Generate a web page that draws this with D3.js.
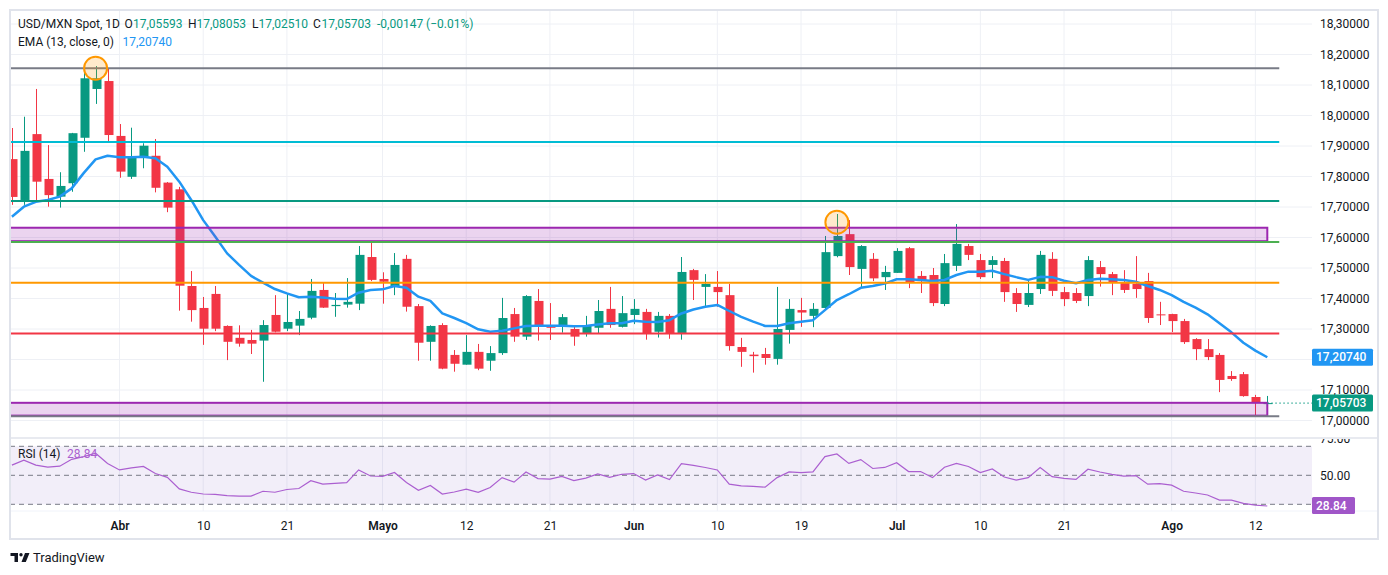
<!DOCTYPE html>
<html>
<head>
<meta charset="utf-8">
<script src="https://cdn.jsdelivr.net/npm/d3@7/dist/d3.min.js"></script>
<style>
body{margin:0;background:#fff;}
svg{display:block;font-family:Roboto,"Noto Sans",sans-serif;}
</style>
</head>
<body>
<svg id="chart" width="1388" height="575"></svg>
<script>
// daily candles
var opens = [17.857,17.723,17.939,17.792,17.734,17.778,17.927,18.087,18.113,17.933,
  17.799,17.865,17.868,17.780,17.758,17.441,17.369,17.415,17.310,17.271,
  17.264,17.262,17.346,17.301,17.311,17.337,17.428,17.375,17.380,17.383,
  17.536,17.464,17.438,17.530,17.375,17.258,17.313,17.215,17.183,17.225,
  17.196,17.221,17.349,17.275,17.392,17.313,17.313,17.300,17.287,17.304,
  17.366,17.307,17.346,17.356,17.291,17.343,17.287,17.493,17.438,17.438,
  17.411,17.241,17.216,17.218,17.202,17.297,17.362,17.343,17.369,17.539,
  17.611,17.497,17.530,17.470,17.484,17.565,17.474,17.477,17.382,17.507,
  17.572,17.526,17.510,17.523,17.418,17.379,17.431,17.530,17.421,17.418,
  17.408,17.503,17.480,17.454,17.448,17.457,17.348,17.349,17.326,17.267,
  17.234,17.215,17.146,17.152,17.077,17.05593];
var highs = [17.959,17.996,18.087,17.903,17.814,17.943,18.146,18.162,18.155,17.972,
  17.960,17.909,17.923,17.782,17.766,17.490,17.405,17.441,17.312,17.312,
  17.297,17.329,17.411,17.415,17.359,17.464,17.454,17.418,17.467,17.572,
  17.583,17.486,17.549,17.543,17.382,17.312,17.319,17.231,17.280,17.251,
  17.244,17.402,17.369,17.411,17.431,17.385,17.349,17.307,17.343,17.395,
  17.438,17.408,17.398,17.366,17.356,17.349,17.536,17.497,17.480,17.490,
  17.448,17.271,17.225,17.238,17.438,17.398,17.402,17.385,17.605,17.677,
  17.657,17.575,17.549,17.507,17.565,17.569,17.490,17.500,17.546,17.644,
  17.579,17.546,17.539,17.533,17.434,17.461,17.556,17.552,17.438,17.434,
  17.539,17.523,17.487,17.493,17.539,17.484,17.389,17.350,17.333,17.270,
  17.267,17.221,17.162,17.159,17.084,17.08053];
var lows = [17.707,17.707,17.723,17.701,17.698,17.750,17.881,18.038,17.914,17.796,
  17.792,17.827,17.748,17.683,17.360,17.324,17.248,17.293,17.198,17.242,
  17.218,17.127,17.289,17.293,17.280,17.332,17.369,17.340,17.370,17.362,
  17.457,17.383,17.411,17.357,17.196,17.196,17.168,17.160,17.183,17.165,
  17.163,17.215,17.258,17.264,17.262,17.264,17.288,17.245,17.275,17.285,
  17.304,17.305,17.316,17.265,17.272,17.268,17.265,17.395,17.372,17.373,
  17.229,17.176,17.157,17.183,17.183,17.252,17.307,17.306,17.365,17.535,
  17.477,17.437,17.457,17.428,17.484,17.434,17.418,17.375,17.375,17.490,
  17.526,17.464,17.467,17.389,17.356,17.372,17.415,17.408,17.375,17.385,
  17.375,17.439,17.411,17.418,17.402,17.320,17.313,17.290,17.251,17.198,
  17.198,17.093,17.130,17.078,17.015,17.02510];
var closes = [17.733,17.884,17.783,17.739,17.769,17.942,18.122,18.122,17.936,17.816,
  17.867,17.901,17.763,17.698,17.442,17.362,17.301,17.301,17.258,17.252,
  17.252,17.313,17.291,17.323,17.333,17.425,17.370,17.379,17.389,17.543,
  17.461,17.455,17.510,17.373,17.255,17.310,17.170,17.186,17.225,17.170,
  17.221,17.336,17.275,17.408,17.311,17.304,17.339,17.275,17.310,17.359,
  17.313,17.352,17.366,17.285,17.343,17.284,17.487,17.461,17.448,17.421,
  17.244,17.225,17.211,17.205,17.300,17.366,17.354,17.366,17.552,17.605,
  17.503,17.572,17.466,17.487,17.556,17.454,17.457,17.385,17.516,17.579,
  17.543,17.470,17.526,17.421,17.382,17.418,17.543,17.425,17.398,17.392,
  17.526,17.480,17.451,17.428,17.431,17.336,17.346,17.326,17.257,17.234,
  17.208,17.133,17.136,17.080,17.0585,17.05703];
var emaValues = [17.668,17.701,17.717,17.723,17.734,17.761,17.811,17.856,17.868,17.863,
  17.863,17.865,17.860,17.832,17.783,17.723,17.657,17.603,17.548,17.510,
  17.474,17.452,17.431,17.417,17.404,17.406,17.403,17.399,17.398,17.419,
  17.428,17.430,17.441,17.435,17.406,17.392,17.351,17.336,17.319,17.299,
  17.291,17.294,17.302,17.310,17.311,17.311,17.311,17.309,17.310,17.315,
  17.319,17.319,17.327,17.324,17.323,17.329,17.351,17.364,17.373,17.379,
  17.359,17.340,17.324,17.310,17.310,17.319,17.324,17.329,17.362,17.395,
  17.414,17.435,17.441,17.449,17.463,17.463,17.461,17.457,17.461,17.477,
  17.488,17.488,17.491,17.480,17.470,17.461,17.471,17.470,17.458,17.450,
  17.461,17.465,17.463,17.461,17.455,17.441,17.428,17.411,17.389,17.370,
  17.348,17.319,17.289,17.255,17.229,17.2074];
var rsiValues = [57.0,60.5,57.0,55.6,56.3,61.0,62.9,65.2,58.2,53.7,
  55.1,56.1,51.2,48.6,40.6,38.3,37.1,36.9,36.0,35.7,
  35.7,39.0,38.3,40.2,40.9,46.3,43.9,44.4,44.9,53.7,
  49.5,49.3,51.9,45.1,39.7,43.0,37.1,38.5,40.4,38.3,
  41.6,48.4,45.3,52.3,47.7,47.4,49.3,46.3,48.1,50.9,
  48.6,50.7,51.2,46.7,50.2,47.0,58.0,56.8,55.4,53.7,
  43.9,42.7,42.3,41.8,48.4,52.3,51.9,52.3,62.9,64.7,
  58.2,60.8,54.7,55.4,58.7,52.6,52.6,48.4,55.6,58.2,
  56.1,51.9,54.4,48.8,46.7,48.4,55.4,49.1,47.9,47.2,
  54.2,52.3,50.7,49.5,49.8,43.9,44.2,43.2,39.0,37.8,
  36.4,32.9,32.9,30.6,29.4,28.84];

// time axis: bar index of each label
var tickIndex = [9,16,23,31,38,45,52,59,66,74,81,88,97,104];
var tickLabels = ['Abr','10','21','Mayo','12','21','Jun','10','19','Jul','10','21','Ago','12'];
var monthLabels = ['Abr','Mayo','Jun','Jul','Ago'];
var gridPrices = [18.3,18.2,18.1,18.0,17.9,17.8,17.7,17.6,17.5,17.4,17.3,17.2,17.1,17.0];
var priceLabels = [18.3,18.2,18.1,18.0,17.9,17.8,17.7,17.6,17.5,17.4,17.3,17.1,17.0];
var rsiBands = [70,50,30];
var rsiTicks = [75,50];

// drawn levels, zones and circled highs
var levelPrices = [18.155,17.913,17.72,17.585,17.452,17.285,17.014];
var levelColors = ['#787b86','#00bcd4','#089981','#4caf50','#ff9800','#f23645','#787b86'];
var zoneTops = [17.632,17.058];
var zoneBottoms = [17.588,17.016];
var markerIndex = [7,69];
var markerPrices = [18.155,17.650];

var UP = '#089981', DOWN = '#f23645', TXT = '#131722', GRID = '#eef0f5';
var paneL = 10, paneR = 1312, paneT = 10, mainBottom = 438, rsiBottom = 511, axisBottom = 539, frameRight = 1378;
var last = closes.length - 1;

var svg = d3.select('#chart');
var x = d3.scaleLinear().domain([0, last]).range([11.9, 1267.3]);
var y = d3.scaleLinear().domain([17.0, 18.3]).range([420.5, 24]);
var yRsi = d3.scaleLinear().domain([30, 70]).range([504.3, 446.3]);

var fmtPrice = function(v){ return v.toFixed(5).replace('.', ','); };

var defs = svg.append('defs');
defs.append('clipPath').attr('id','clipMain').append('rect')
  .attr('x',paneL).attr('y',paneT).attr('width',paneR-paneL).attr('height',mainBottom-paneT);
defs.append('clipPath').attr('id','clipRsi').append('rect')
  .attr('x',paneL).attr('y',mainBottom).attr('width',paneR-paneL).attr('height',rsiBottom-mainBottom);
defs.append('clipPath').attr('id','clipRsiAxis').append('rect')
  .attr('x',paneR).attr('y',mainBottom+1).attr('width',frameRight-paneR).attr('height',rsiBottom-mainBottom-1);

// grid
var grid = svg.append('g');
grid.selectAll('.hgrid').data(gridPrices).enter().append('line')
  .attr('x1',paneL).attr('x2',paneR)
  .attr('y1',function(d){return y(d);}).attr('y2',function(d){return y(d);})
  .style('stroke',GRID);
grid.selectAll('.vgrid').data(tickIndex).enter().append('line')
  .attr('x1',function(d){return x(d);}).attr('x2',function(d){return x(d);})
  .attr('y1',paneT).attr('y2',rsiBottom)
  .style('stroke',GRID);

// candles
var main = svg.append('g').attr('clip-path','url(#clipMain)');
var candle = main.selectAll('.candle').data(d3.range(closes.length)).enter().append('g');
candle.append('line')
  .attr('x1',function(i){return Math.round(x(i))+0.5;}).attr('x2',function(i){return Math.round(x(i))+0.5;})
  .attr('y1',function(i){return y(highs[i]);}).attr('y2',function(i){return y(lows[i]);})
  .style('stroke',function(i){return closes[i]>=opens[i]?UP:DOWN;});
candle.append('rect')
  .attr('x',function(i){return Math.round(x(i))-3.5;})
  .attr('width',9)
  .attr('y',function(i){return y(Math.max(opens[i],closes[i]));})
  .attr('height',function(i){return Math.max(1, Math.abs(y(opens[i])-y(closes[i])));})
  .style('fill',function(i){return closes[i]>=opens[i]?UP:DOWN;});

// EMA 13
main.append('path')
  .datum(emaValues)
  .attr('d', d3.line().x(function(d,i){return x(i);}).y(function(d){return y(d);}))
  .style('fill','none').style('stroke','#2196f3').style('stroke-width',2.5)
  .style('stroke-linejoin','round');

// zones
main.selectAll('.zone').data(zoneTops).enter().append('rect')
  .attr('x',paneL-2).attr('width',x(last)-paneL+2)
  .attr('y',function(d){return y(d);})
  .attr('height',function(d,i){return y(zoneBottoms[i])-y(d);})
  .style('fill','rgba(156,39,176,0.2)').style('stroke','#9c27b0').style('stroke-width',2);

// horizontal levels
main.selectAll('.level').data(levelPrices).enter().append('line')
  .attr('x1',paneL).attr('x2',x(last+1))
  .attr('y1',function(d){return y(d);}).attr('y2',function(d){return y(d);})
  .style('stroke',function(d,i){return levelColors[i];}).style('stroke-width',2);

// circled highs
main.selectAll('.marker').data(markerIndex).enter().append('circle')
  .attr('cx',function(d){return x(d);})
  .attr('cy',function(d,i){return y(markerPrices[i]);})
  .attr('r',11.5)
  .style('fill','rgba(255,152,0,0.2)').style('stroke','#ff9800').style('stroke-width',2);

// last close dotted line
svg.append('line')
  .attr('x1',x(last)).attr('x2',paneR)
  .attr('y1',y(closes[last])).attr('y2',y(closes[last]))
  .style('stroke',UP).style('stroke-dasharray','1.5,2.5');

// RSI pane
var rsiG = svg.append('g').attr('clip-path','url(#clipRsi)');
rsiG.append('rect')
  .attr('x',paneL).attr('width',paneR-paneL)
  .attr('y',yRsi(70)).attr('height',yRsi(30)-yRsi(70))
  .style('fill','rgba(126,87,194,0.1)');
rsiG.selectAll('.band').data(rsiBands).enter().append('line')
  .attr('x1',paneL).attr('x2',paneR)
  .attr('y1',function(d){return yRsi(d);}).attr('y2',function(d){return yRsi(d);})
  .style('stroke','#787b86').style('stroke-dasharray','5,4');
rsiG.append('path')
  .datum(rsiValues)
  .attr('d', d3.line().x(function(d,i){return x(i);}).y(function(d){return yRsi(d);}))
  .style('fill','none').style('stroke','#ab5fd0').style('stroke-width',1.2);

// separators and frame
svg.append('line').attr('x1',paneL).attr('x2',frameRight).attr('y1',mainBottom).attr('y2',mainBottom)
  .style('stroke','#e0e3eb').style('stroke-width',1.5);
svg.append('line').attr('x1',paneL).attr('x2',frameRight).attr('y1',rsiBottom).attr('y2',rsiBottom)
  .style('stroke','#f0f3fa');
svg.append('rect').attr('x',paneL).attr('y',paneT).attr('width',frameRight-paneL).attr('height',axisBottom-paneT)
  .style('fill','none').style('stroke','#e0e3eb').style('stroke-width',2);

// price axis
var yAxis = svg.append('g').attr('transform','translate('+paneR+',0)')
  .call(d3.axisRight(y).tickValues(priceLabels).tickFormat(fmtPrice).tickSize(0).tickPadding(8));
yAxis.select('.domain').remove();
yAxis.selectAll('text').style('font-size','12px').style('fill',TXT).style('font-family','Roboto');

var rAxis = svg.append('g').attr('clip-path','url(#clipRsiAxis)').append('g')
  .attr('transform','translate('+paneR+',0)')
  .call(d3.axisRight(yRsi).tickValues(rsiTicks).tickFormat(d3.format('.2f')).tickSize(0).tickPadding(8));
rAxis.select('.domain').remove();
rAxis.selectAll('text').style('font-size','12px').style('fill',TXT).style('font-family','Roboto');

// time axis
var xAxis = svg.append('g').attr('transform','translate(0,'+rsiBottom+')')
  .call(d3.axisBottom(x).tickValues(tickIndex)
    .tickFormat(function(d){return tickLabels[tickIndex.indexOf(d)];})
    .tickSize(0).tickPadding(10));
xAxis.select('.domain').remove();
xAxis.selectAll('text').style('font-size','12px').style('fill',TXT).style('font-family','Roboto')
  .style('font-weight',function(d){return monthLabels.indexOf(tickLabels[tickIndex.indexOf(d)])>=0?'600':'400';});

// value tags on the right scale
var tags = [
  {yy:y(emaValues[last]), text:fmtPrice(emaValues[last]), color:'#2196f3', w:61},
  {yy:y(closes[last]), text:fmtPrice(closes[last]), color:UP, w:61},
  {yy:yRsi(rsiValues[last])-0.5, text:rsiValues[last].toFixed(2), color:'#a056c8', w:43}
];
var tag = svg.selectAll('.tag').data(tags).enter().append('g');
tag.append('rect')
  .attr('x',paneR).attr('y',function(d){return d.yy-8.5;})
  .attr('width',function(d){return d.w;}).attr('height',17).attr('rx',1.5)
  .style('fill',function(d){return d.color;});
tag.append('text')
  .attr('x',paneR+4).attr('y',function(d){return d.yy;}).attr('dy','0.35em')
  .text(function(d){return d.text;})
  .style('fill','#fff').style('font-size','12px').style('font-weight','500');

// legend lines
var change = closes[last]-closes[last-1];
var pct = change/closes[last-1]*100;
var header = [
  {x:18, t:'USD/MXN Spot, 1D', c:TXT},
  {x:124.5, t:'O', c:TXT}, {x:133, t:fmtPrice(opens[last]), c:UP},
  {x:188, t:'H', c:TXT}, {x:196.5, t:fmtPrice(highs[last]), c:UP},
  {x:252, t:'L', c:TXT}, {x:258.5, t:fmtPrice(lows[last]), c:UP},
  {x:313, t:'C', c:TXT}, {x:321.5, t:fmtPrice(closes[last]), c:UP},
  {x:377, t:(change<0?'-':'+')+fmtPrice(Math.abs(change))+' ('+(pct<0?'\u2212':'+')+Math.abs(pct).toFixed(2)+'%)', c:UP}
];
svg.selectAll('.hdr').data(header).enter().append('text')
  .attr('x',function(d){return d.x;}).attr('y',24).attr('dy','0.35em')
  .text(function(d){return d.t;})
  .style('fill',function(d){return d.c;}).style('font-size','12px');
svg.append('text').attr('x',18).attr('y',42).attr('dy','0.35em')
  .text('EMA (13, close, 0)').style('fill',TXT).style('font-size','12px');
svg.append('text').attr('x',122.5).attr('y',42).attr('dy','0.35em')
  .text(fmtPrice(emaValues[last])).style('fill','#2196f3').style('font-size','12px');
svg.append('text').attr('x',18).attr('y',454).attr('dy','0.35em')
  .text('RSI (14)').style('fill',TXT).style('font-size','12px');
svg.append('text').attr('x',67).attr('y',454).attr('dy','0.35em')
  .text(rsiValues[last].toFixed(2)).style('fill','#ab5fd0').style('font-size','12px');

// TradingView mark
var logo = svg.append('g').style('fill',TXT);
logo.append('rect').attr('x',10.5).attr('y',553).attr('width',7.5).attr('height',3);
logo.append('rect').attr('x',14.5).attr('y',553).attr('width',3.5).attr('height',9);
logo.append('circle').attr('cx',21).attr('cy',554.7).attr('r',1.7);
logo.append('path').attr('d','M25,553 L29.5,553 L25.8,562 L21.5,562 Z');
svg.append('text').attr('x',33).attr('y',557).attr('dy','0.35em')
  .text('TradingView').style('fill',TXT).style('font-size','13px');
</script>
</body>
</html>
